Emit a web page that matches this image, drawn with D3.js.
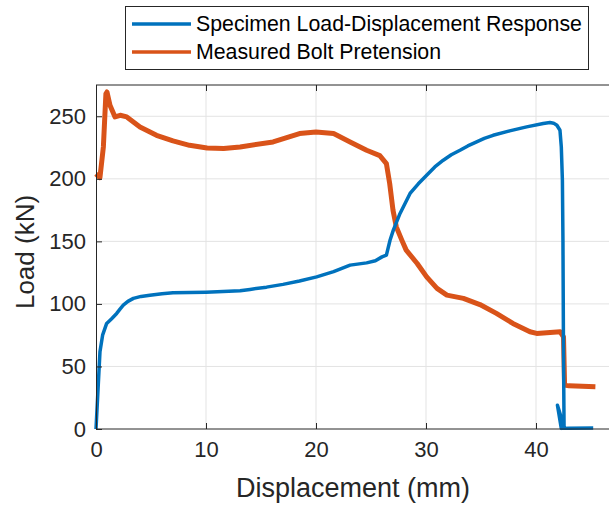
<!DOCTYPE html>
<html>
<head>
<meta charset="utf-8">
<script src="https://cdn.jsdelivr.net/npm/d3@7"></script>
<style>
  body { margin: 0; background: #fff; }
  svg { display: block; font-family: "Liberation Sans", Arial, sans-serif; }
</style>
</head>
<body>
<div id="chart"></div>
<script>
// specimen load-displacement response (mm, kN)
var loadDisp = [0, 0.36, 0.6, 0.97, 1.4, 1.88, 2.2, 2.48, 2.9, 3.4, 4.1, 4.9, 6, 7, 10, 13.1, 14, 15.5, 17, 18.5, 20.06, 21.6, 23.1, 24.6, 25.4, 26, 26.4, 26.73, 27.03, 27.64, 28.55, 29.3, 30.06, 30.8, 31.57, 32.3, 33.09, 33.8, 34.6, 35.3, 36.1, 37.6, 39.15, 40.66, 41.27, 41.6, 41.9, 42.18, 42.3, 42.4, 42.45, 42.5, 42.55, 41.95, 42.3, 43, 45.2];
var loadVal  = [0, 61.7, 75, 84.4, 88, 92.4, 96, 99, 102, 104.4, 106, 107, 108.2, 108.9, 109.4, 110.5, 111.6, 113.4, 115.6, 118.3, 121.6, 125.8, 131, 132.8, 134.5, 137.6, 139, 150.9, 159, 172.3, 188.3, 196, 202.9, 209.5, 214.9, 219.2, 222.8, 226.3, 229.5, 232.3, 234.8, 238.3, 241.5, 244.2, 245, 244.5, 242.8, 238.8, 225.5, 198.9, 150.9, 60, 2, 19, 0.5, 0.6, 0.7];

// measured bolt pretension (mm, kN)
var boltDisp = [0, 0.36, 0.67, 0.9, 1.0, 1.27, 1.73, 2.2, 2.8, 4, 5.5, 7, 8.5, 10.1, 11.6, 13.1, 16.1, 18.5, 20, 21.6, 23.1, 24.6, 25.8, 26.4, 26.7, 27.0, 27.3, 27.8, 28.2, 29.2, 30.06, 31.0, 31.9, 33.4, 34.9, 36.4, 37.9, 39.45, 40.06, 42.2, 42.5, 42.6, 43, 45.4];
var boltVal  = [204, 201, 225.5, 268, 269.4, 258.8, 249.5, 250.8, 249.5, 241.5, 234.8, 230.3, 226.8, 224.7, 224.2, 225.5, 229.5, 236.2, 237.5, 236.2, 229.5, 222.8, 218.5, 212.2, 196.2, 174.9, 161.6, 151, 143, 132.3, 121.6, 112.4, 107, 104.4, 99.5, 92.4, 84.4, 77.7, 76.4, 77.7, 73.7, 35.1, 34.5, 33.8];

var xTicks = [0, 10, 20, 30, 40];
var yTicks = [0, 50, 100, 150, 200, 250];
var seriesNames = ["Specimen Load-Displacement Response", "Measured Bolt Pretension"];
var seriesColors = ["#0072BD", "#D95319"];

var W = 609, H = 506;
var margin = { top: 85, left: 96, bottom: 429 };

var svg = d3.select("#chart").append("svg")
    .attr("width", W)
    .attr("height", H);

// x axis runs past the right edge of the picture
var x = d3.scaleLinear().domain([0, 50]).range([margin.left, margin.left + 550]);
var y = d3.scaleLinear().domain([0, 275]).range([margin.bottom, margin.top]);

var ink = "#262626";

// grid
svg.append("g").selectAll("line")
    .data(xTicks.slice(1))
    .enter().append("line")
    .attr("x1", function (d) { return x(d); })
    .attr("x2", function (d) { return x(d); })
    .attr("y1", margin.top)
    .attr("y2", margin.bottom)
    .attr("stroke", "#e3e3e3")
    .attr("stroke-width", 1);
svg.append("g").selectAll("line")
    .data(yTicks.slice(1))
    .enter().append("line")
    .attr("x1", margin.left)
    .attr("x2", W)
    .attr("y1", function (d) { return y(d); })
    .attr("y2", function (d) { return y(d); })
    .attr("stroke", "#e3e3e3")
    .attr("stroke-width", 1);

// lines
var line = d3.line()
    .x(function (d) { return x(d[0]); })
    .y(function (d) { return y(d[1]); });

var blue = loadDisp.map(function (d, i) { return [d, loadVal[i]]; });
var orange = boltDisp.map(function (d, i) { return [d, boltVal[i]]; });

svg.append("path")
    .datum(orange)
    .attr("d", line)
    .attr("fill", "none")
    .attr("stroke", seriesColors[1])
    .attr("stroke-width", 5)
    .attr("stroke-linejoin", "round");

svg.append("path")
    .datum(blue)
    .attr("d", line)
    .attr("fill", "none")
    .attr("stroke", seriesColors[0])
    .attr("stroke-width", 3.5)
    .attr("stroke-linejoin", "round");

// axes (ticks pointing inward, box on top)
var xAxis = svg.append("g")
    .attr("transform", "translate(0," + margin.bottom + ")")
    .call(d3.axisBottom(x).tickValues(xTicks).tickSizeInner(-6).tickSizeOuter(0).tickPadding(12));
var xTop = svg.append("g")
    .attr("transform", "translate(0," + margin.top + ")")
    .call(d3.axisTop(x).tickValues(xTicks).tickSizeInner(-6).tickSizeOuter(0).tickFormat(""));
var yAxis = svg.append("g")
    .attr("transform", "translate(" + margin.left + ",0)")
    .call(d3.axisLeft(y).tickValues(yTicks).tickSizeInner(-6).tickSizeOuter(0).tickPadding(10));

[xAxis, xTop, yAxis].forEach(function (g) {
    g.select(".domain").attr("stroke", ink).attr("stroke-width", 1);
    g.selectAll(".tick line").attr("stroke", ink);
    g.selectAll(".tick text")
        .attr("fill", ink)
        .style("font-size", "22px")
        .style("font-family", "Liberation Sans, Arial, sans-serif");
});
xAxis.select(".domain").attr("d", "M" + margin.left + ",0H" + W);
xTop.select(".domain").attr("d", "M" + margin.left + ",0H" + W);

// axis labels
svg.append("text")
    .attr("x", 353)
    .attr("y", 497)
    .attr("text-anchor", "middle")
    .attr("fill", ink)
    .style("font-size", "27px")
    .text("Displacement (mm)");

svg.append("text")
    .attr("transform", "translate(34,252) rotate(-90)")
    .attr("text-anchor", "middle")
    .attr("fill", ink)
    .style("font-size", "26px")
    .text("Load (kN)");

// legend
var legend = svg.append("g");
legend.append("rect")
    .attr("x", 125.5)
    .attr("y", 6.5)
    .attr("width", 463)
    .attr("height", 63)
    .attr("fill", "#fff")
    .attr("stroke", ink)
    .attr("stroke-width", 1);

var rowY = [24, 52];
legend.selectAll("line.key")
    .data(seriesNames)
    .enter().append("line")
    .attr("class", "key")
    .attr("x1", 132)
    .attr("x2", 191)
    .attr("y1", function (d, i) { return rowY[i]; })
    .attr("y2", function (d, i) { return rowY[i]; })
    .attr("stroke", function (d, i) { return seriesColors[i]; })
    .attr("stroke-width", 3.5);

legend.selectAll("text")
    .data(seriesNames)
    .enter().append("text")
    .attr("x", 196)
    .attr("y", function (d, i) { return rowY[i] + 7; })
    .attr("fill", "#000")
    .style("font-size", "21.3px")
    .text(function (d) { return d; });
</script>
</body>
</html>
